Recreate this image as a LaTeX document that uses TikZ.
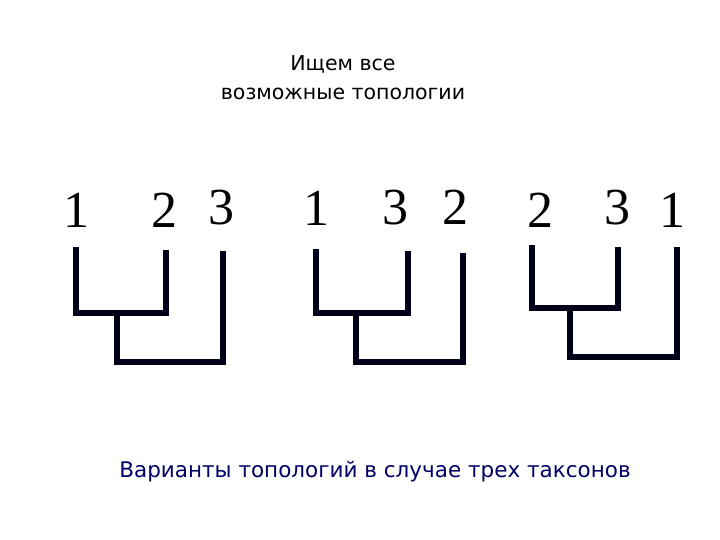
\documentclass[tikz,border=0pt]{standalone}
\usepackage{fontspec}
\setmainfont{DejaVu Sans}
\newfontfamily\numfont{Liberation Serif}
\begin{document}
\begin{tikzpicture}[x=1pt,y=-1pt,
  br/.style={line width=6pt,line cap=rect,color=black!90!blue},
  num/.style={font=\numfont\fontsize{52}{52}\selectfont,inner sep=0pt},
  ttl/.style={font=\fontsize{20.5}{29}\selectfont,align=center,inner sep=0pt}]
\useasboundingbox (0,0) rectangle (720,540);
\node[ttl] (t) at (343,78) {Ищем все\\возможные топологии};
\node[font=\fontsize{21.5}{24}\selectfont,text=blue!40!black,inner sep=0pt] (b) at (375,472) {Варианты топологий в случае трех таксонов};
% tree 1
\node[num] (a1) at (76,210) {1};
\node[num] (a2) at (164,210) {2};
\node[num] (a3) at (221,208) {3};
\draw[br] (76,250) |- (166,313) -- (166,253);
\draw[br] (117,315) |- (223,362) -- (223,254);
% tree 2
\node[num] (b1) at (316,208) {1};
\node[num] (b3) at (395,208) {3};
\node[num] (b2) at (455,207) {2};
\draw[br] (316,252) |- (408,313) -- (408,254);
\draw[br] (356,315) |- (463,362) -- (463,256);
% tree 3
\node[num] (c2) at (540,210) {2};
\node[num] (c3) at (617,208) {3};
\node[num] (c1) at (672,210) {1};
\draw[br] (532,248) |- (618,308) -- (618,250);
\draw[br] (570,310) |- (677,357) -- (677,250);
\end{tikzpicture}
\end{document}
